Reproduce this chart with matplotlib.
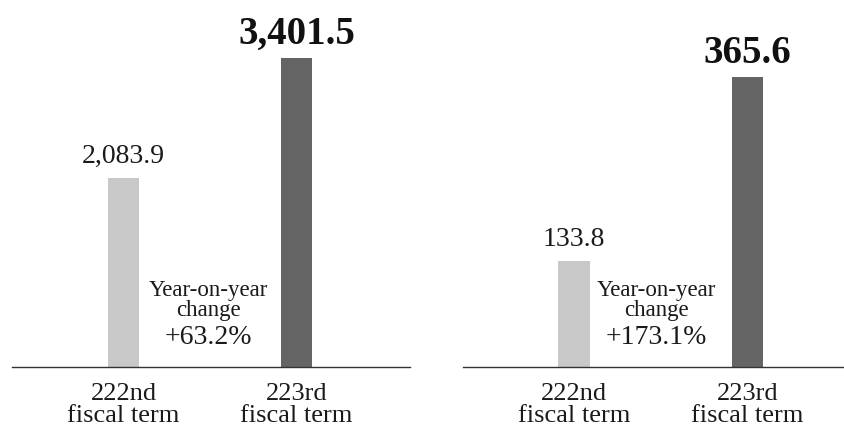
import matplotlib
matplotlib.use("Agg")
import matplotlib.pyplot as plt

plt.rcParams["font.family"] = ["Liberation Serif", "DejaVu Serif"]

TERMS = ["222nd\nfiscal term", "223rd\nfiscal term"]
LEFT_VALUES = [2083.9, 3401.5]
RIGHT_VALUES = [133.8, 365.6]
LEFT_CHANGE = "+63.2%"
RIGHT_CHANGE = "+173.1%"
BAR_COLORS = ["#c8c8c8", "#646464"]

W, H = 844, 432
BASE = 367  # baseline pixel row


def panel(fig, left_px, right_px, xlo, xhi, values, ytop, change, note_x):
    ax = fig.add_axes([left_px / W, 1 - BASE / H, (right_px - left_px) / W, BASE / H])
    x = range(len(values))
    ax.bar(x, values, width=0.18, color=BAR_COLORS)
    ax.set_xlim(xlo, xhi)
    ax.set_ylim(0, ytop)
    for s in ["top", "left", "right"]:
        ax.spines[s].set_visible(False)
    ax.spines["bottom"].set_color("#333333")
    ax.spines["bottom"].set_linewidth(1.0)
    ax.set_yticks([])
    ax.set_xticks(list(x))
    ax.set_xticklabels(TERMS, fontsize=19, linespacing=1.0, color="#1a1a1a")
    ax.tick_params(axis="x", length=0, pad=11.5)

    # value labels
    fmt = ["{:,.1f}".format(v) for v in values]
    ax.annotate(fmt[0], (0, values[0]), xytext=(0, 10.5), textcoords="offset points",
                ha="center", va="baseline", fontsize=20, color="#1a1a1a")
    ax.annotate(fmt[1], (1, values[1]), xytext=(0, 10), textcoords="offset points",
                ha="center", va="baseline", fontsize=28, fontweight="bold", color="#111111")

    # year-on-year note
    tr = ax.get_xaxis_transform()
    ax.text(note_x, (BASE - 296) / BASE, "Year-on-year", transform=tr,
            ha="center", va="baseline", fontsize=16.5, color="#1a1a1a")
    ax.text(note_x, (BASE - 316) / BASE, "change", transform=tr,
            ha="center", va="baseline", fontsize=16.5, color="#1a1a1a")
    ax.text(note_x, (BASE - 344) / BASE, change, transform=tr,
            ha="center", va="baseline", fontsize=20, color="#1a1a1a")
    return ax


fig = plt.figure(figsize=(W / 100, H / 100), dpi=100)
panel(fig, 12, 410, -0.645, 1.656, LEFT_VALUES, 4040, LEFT_CHANGE, 0.49)
panel(fig, 463, 844, -0.64, 1.556, RIGHT_VALUES, 462.7, RIGHT_CHANGE, 0.475)

fig.savefig("out.png", dpi=100)
